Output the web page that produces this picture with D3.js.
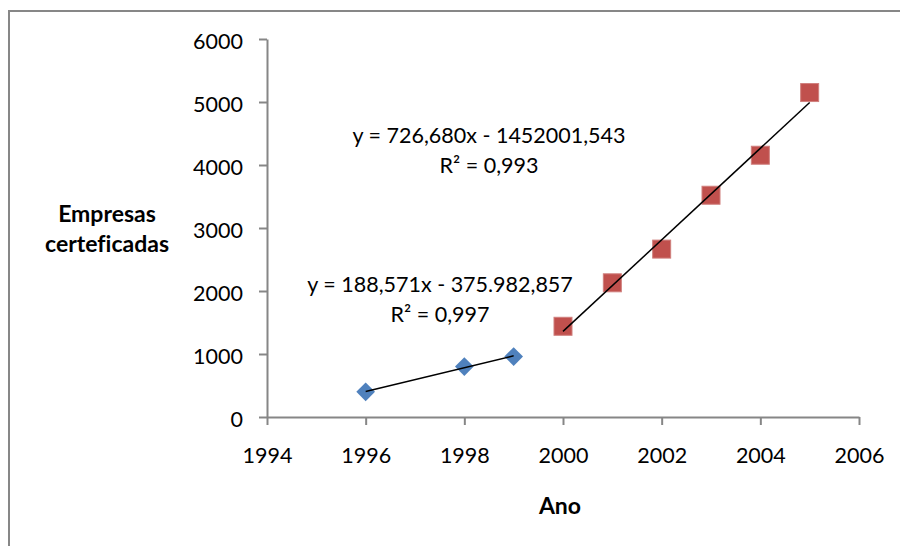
<!DOCTYPE html>
<html>
<head>
<meta charset="utf-8">
<script src="https://cdn.jsdelivr.net/npm/d3@7"></script>
<style>
  html, body { margin: 0; padding: 0; background: #fff; }
  svg { display: block; }
  text { font-family: Lato, "Open Sans", sans-serif; fill: #000; font-variant-ligatures: none; }
</style>
</head>
<body>
<svg id="chart" width="900" height="546"></svg>
<script>
// ---- data ----
const yearsA = [1996, 1998, 1999];
const valuesA = [400, 800, 960];
const yearsB = [2000, 2001, 2002, 2003, 2004, 2005];
const valuesB = [1440, 2130, 2665, 3520, 4155, 5150];
const xTicks = [1994, 1996, 1998, 2000, 2002, 2004, 2006];
const yTicks = [0, 1000, 2000, 3000, 4000, 5000, 6000];
const trendA = { slope: 188.571, intercept: -375982.857 };
const trendB = { slope: 726.680, intercept: -1452001.543 };
const labelA = ["y = 188,571x - 375.982,857", "R² = 0,997"];
const labelB = ["y = 726,680x - 1452001,543", "R² = 0,993"];
const yTitle = ["Empresas", "certeficadas"];
const xTitle = "Ano";

// ---- layout ----
const svg = d3.select("#chart");
const x = d3.scaleLinear().domain([1994, 2006]).range([267, 859]);
const y = d3.scaleLinear().domain([0, 6000]).range([417, 39]);
const axisColor = "#868686";
const fontSize = 21.5;

svg.append("rect").attr("width", 900).attr("height", 546).attr("fill", "#fff");
svg.append("rect").attr("x", 9).attr("y", 11).attr("width", 1000).attr("height", 1000)
  .attr("fill", "none").attr("stroke", "#878787").attr("stroke-width", 2);

// axes
const gx = svg.append("g").attr("transform", `translate(0,${y(0)})`)
  .call(d3.axisBottom(x).tickValues(xTicks).tickFormat(d3.format("d")).tickSizeInner(8).tickSizeOuter(0).tickPadding(24));
const gy = svg.append("g").attr("transform", `translate(${x(1994)},0)`)
  .call(d3.axisLeft(y).tickValues(yTicks).tickFormat(d3.format("d")).tickSizeInner(8).tickSizeOuter(0).tickPadding(16));
[gx, gy].forEach(g => {
  g.select(".domain").attr("stroke", axisColor).attr("stroke-width", 2);
  g.selectAll(".tick line").attr("stroke", axisColor).attr("stroke-width", 2);
  g.selectAll(".tick text").attr("font-size", fontSize).attr("font-family", "Lato, 'Open Sans', sans-serif").attr("fill", "#000");
});
gx.selectAll(".tick text").attr("dy", "0").attr("y", 46);
gy.selectAll(".tick text").attr("dy", "0.42em");

// trend lines
function trend(t, years) {
  const x0 = d3.min(years), x1 = d3.max(years);
  svg.append("line")
    .attr("x1", x(x0)).attr("y1", y(t.slope * x0 + t.intercept))
    .attr("x2", x(x1)).attr("y2", y(t.slope * x1 + t.intercept))
    .attr("stroke", "#000").attr("stroke-width", 1.5);
}

// markers
const diamond = d3.symbol().type(d3.symbolSquare).size(175);
svg.append("g").selectAll("path").data(yearsA.map((d, i) => [d, valuesA[i]])).join("path")
  .attr("d", diamond)
  .attr("transform", d => `translate(${x(d[0])},${y(d[1])}) rotate(45)`)
  .attr("fill", "#4F81BD");
svg.append("g").selectAll("rect").data(yearsB.map((d, i) => [d, valuesB[i]])).join("rect")
  .attr("x", d => x(d[0]) - 9).attr("y", d => y(d[1]) - 9)
  .attr("width", 18).attr("height", 18)
  .attr("fill", "#C0504D").attr("stroke", "#D07f7d").attr("stroke-width", 1);

trend(trendA, yearsA);
trend(trendB, yearsB);

// equation labels
function eqLabel(lines, cx, by) {
  const t = svg.append("text").attr("text-anchor", "middle").attr("font-size", fontSize);
  lines.forEach((l, i) => t.append("tspan").attr("x", cx).attr("y", by + i * 30).text(l));
}
eqLabel(labelB, 489, 143);
eqLabel(labelA, 440, 292);

// titles
const yt = svg.append("text").attr("text-anchor", "middle").attr("font-size", 23).attr("font-weight", "bold");
yTitle.forEach((l, i) => yt.append("tspan").attr("x", 107).attr("y", 222 + i * 30).text(l));
svg.append("text").attr("text-anchor", "middle").attr("font-size", 23).attr("font-weight", "bold")
  .attr("x", 560).attr("y", 514).text(xTitle);
</script>
</body>
</html>
